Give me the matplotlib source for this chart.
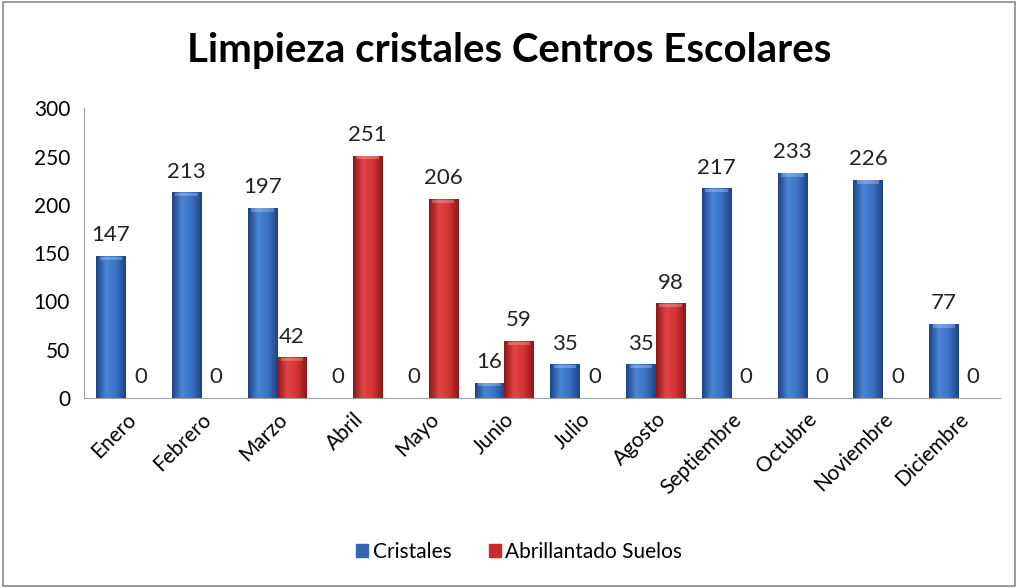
import matplotlib.pyplot as plt
import numpy as np
from matplotlib.colors import LinearSegmentedColormap
from matplotlib.patches import Rectangle

meses = ['Enero', 'Febrero', 'Marzo', 'Abril', 'Mayo', 'Junio', 'Julio',
         'Agosto', 'Septiembre', 'Octubre', 'Noviembre', 'Diciembre']
cristales = [147, 213, 197, 0, 0, 16, 35, 35, 217, 233, 226, 77]
suelos = [0, 0, 42, 251, 206, 59, 0, 98, 0, 0, 0, 0]

plt.rcParams['font.family'] = ['Lato', 'DejaVu Sans']

fig = plt.figure(figsize=(10.18, 5.88), dpi=100)
ax = fig.add_axes([0.0825, 0.323, 0.9, 0.493])

x = np.arange(len(meses))
w = 0.39
b1 = ax.bar(x - w / 2, cristales, w, color='#3566b8', label='Cristales')
b2 = ax.bar(x + w / 2, suelos, w, color='#c92a2a', label='Abrillantado Suelos')

# shading like the cylinder look
cm_blue = LinearSegmentedColormap.from_list('b', ['#1d4484', '#4a84d6', '#3b72c6', '#1d4484'])
cm_red = LinearSegmentedColormap.from_list('r', ['#8e1717', '#e04444', '#d43434', '#8e1717'])
grad = np.linspace(0, 1, 64).reshape(1, -1)
for bars, cm in ((b1, cm_blue), (b2, cm_red)):
    for p in bars:
        h = p.get_height()
        if h <= 0:
            continue
        x0 = p.get_x()
        p.set_alpha(0)
        im = ax.imshow(grad, cmap=cm, aspect='auto', extent=[x0, x0 + p.get_width(), 0, h], zorder=2)
        clip = Rectangle((x0, 0), p.get_width(), h, transform=ax.transData)
        im.set_clip_path(clip)
        # top highlight
        ax.add_patch(Rectangle((x0 + p.get_width() * 0.12, h - 4), p.get_width() * 0.76, 3.5,
                               color='white', alpha=0.25, zorder=3, lw=0))

for bars in (b1, b2):
    for p in bars:
        h = p.get_height()
        ax.text(p.get_x() + p.get_width() / 2, h + 11, str(int(h)), ha='center', va='bottom',
                fontsize=16, color='#222222')

ax.set_xlim(-0.55, len(meses) - 0.45)
ax.set_ylim(0, 300)
ax.set_yticks(range(0, 301, 50))
ax.set_xticks(x)
ax.set_xticklabels(meses, rotation=45, ha='right', rotation_mode='anchor', fontsize=15)
ax.tick_params(axis='y', labelsize=15, length=0, pad=10)
ax.tick_params(axis='x', length=0, pad=8)
for s in ('top', 'right'):
    ax.spines[s].set_visible(False)
for s in ('left', 'bottom'):
    ax.spines[s].set_color('#a0a0a0')

fig.suptitle('Limpieza cristales Centros Escolares', fontsize=29, fontweight='bold', y=0.945)

h1 = Rectangle((0, 0), 1, 1, color='#3566b8')
h2 = Rectangle((0, 0), 1, 1, color='#c92a2a')
fig.legend([h1, h2], ['Cristales', 'Abrillantado Suelos'], loc='center', bbox_to_anchor=(0.51, 0.062),
           ncol=2, frameon=False, fontsize=15, handlelength=0.6, handleheight=0.6,
           handletextpad=0.2, columnspacing=1.8)

fig.add_artist(Rectangle((0.003, 0.003), 0.994, 0.994, transform=fig.transFigure,
                         fill=False, edgecolor='#8a8a8a', lw=1.2))

fig.savefig('out.png', dpi=100)
